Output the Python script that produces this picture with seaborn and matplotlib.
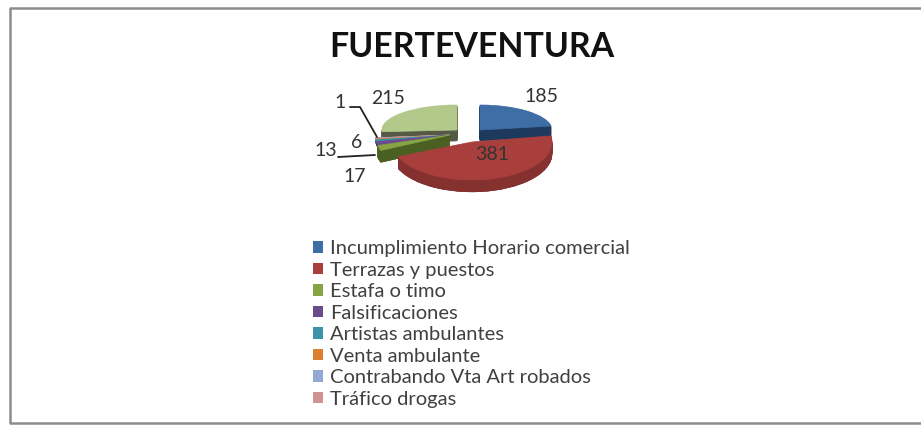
import matplotlib
matplotlib.use("Agg")
import matplotlib.pyplot as plt
import seaborn as sns
import numpy as np
from matplotlib.patches import Wedge, Patch
from matplotlib.transforms import Affine2D

categories = ["Incumplimiento Horario comercial", "Terrazas y puestos", "Estafa o timo",
              "Falsificaciones", "Artistas ambulantes", "Venta ambulante",
              "Contrabando Vta Art robados", "Tráfico drogas", "Otros"]
values = [185, 381, 17, 13, 6, 3, 3, 1, 215]
shown_in_legend = 8

top_colors = ["#3f6ea6", "#a93f3c", "#86a444", "#6a4c8c", "#3a93ab", "#db8030", "#93a9d0", "#d19391", "#b3c98c"]
side_colors = ["#1d3a5c", "#853130", "#4a5f22", "#3d2b55", "#1f5a6c", "#8a4c18", "#5a6c90", "#8a5a58", "#565a45"]

# center x, center y, radius x, radius y, depth of each slice (pixels)
geom = [(480, 130, 72, 25, 11), (472, 142, 80, 38, 12), (450, 135, 75, 40, 12),
        (450, 135, 75, 40, 2), (450, 135, 75, 40, 2), (450, 135, 75, 40, 2),
        (450, 135, 75, 40, 2), (450, 135, 75, 40, 2), (457, 130, 75, 25, 11)]

sns.set_theme(style="white")
plt.rcParams["font.family"] = ["Lato", "DejaVu Sans"]

fig, ax = plt.subplots(figsize=(9.21, 4.25), dpi=100)
ax.set_position([0, 0, 1, 1])
ax.set_xlim(0, 921)
ax.set_ylim(425, 0)
ax.axis("off")

# frame: top, left and bottom only, it runs off the right edge
ax.plot([921, 10, 10, 921], [7.5, 7.5, 423, 423], color="#8c8c8c", linewidth=1.8)

# slice angles, clockwise from north
total = sum(values)
angles = [0]
for v in values:
    angles.append(angles[-1] + v / total * 360)


def draw_slice(i):
    cx, cy, rx, ry, depth = geom[i]
    a1, a2 = angles[i] - 90, angles[i + 1] - 90
    # small steps so the thin tips of the narrow slices leave no gaps
    for dz in np.arange(depth, 0.5, -0.25):
        tr = Affine2D().scale(rx, ry).translate(cx, cy + dz) + ax.transData
        ax.add_patch(Wedge((0, 0), 1, a1, a2, transform=tr, facecolor=side_colors[i],
                           edgecolor=side_colors[i], linewidth=0.3))
    tr = Affine2D().scale(rx, ry).translate(cx, cy) + ax.transData
    ax.add_patch(Wedge((0, 0), 1, a1, a2, transform=tr, facecolor=top_colors[i],
                       edgecolor=top_colors[i], linewidth=0.5))


for i in [8, 7, 6, 5, 4, 3, 2, 0, 1]:
    draw_slice(i)

# data labels
text_color = "#333333"
labels = ["185", "381", "17", "13", "6", "1", "215"]
label_x = [541, 492, 355, 326, 357, 340, 388]
label_y = [96, 155, 176, 151, 142, 102, 98]
for s, x, y in zip(labels, label_x, label_y):
    ax.text(x, y, s, ha="center", va="center", fontsize=14, color=text_color)

# leader lines
ax.plot([350, 360, 377], [107, 107, 137], color="#222222", linewidth=1.3)
ax.plot([338, 375], [157, 155], color="#222222", linewidth=1.3)

ax.text(472, 47, "FUERTEVENTURA", ha="center", va="center", fontsize=24.4, fontweight="bold", color="#111111")

handles = [Patch(facecolor=c, linewidth=0) for c in top_colors[:shown_in_legend]]
ax.legend(handles, categories[:shown_in_legend], loc="upper left", bbox_to_anchor=(313, 240),
          bbox_transform=ax.transData, frameon=False, fontsize=14.5, labelcolor="#404040",
          handlelength=0.5, handleheight=0.5, handletextpad=0.35, labelspacing=0.225,
          borderpad=0, borderaxespad=0)

fig.savefig("out.png", dpi=100)
